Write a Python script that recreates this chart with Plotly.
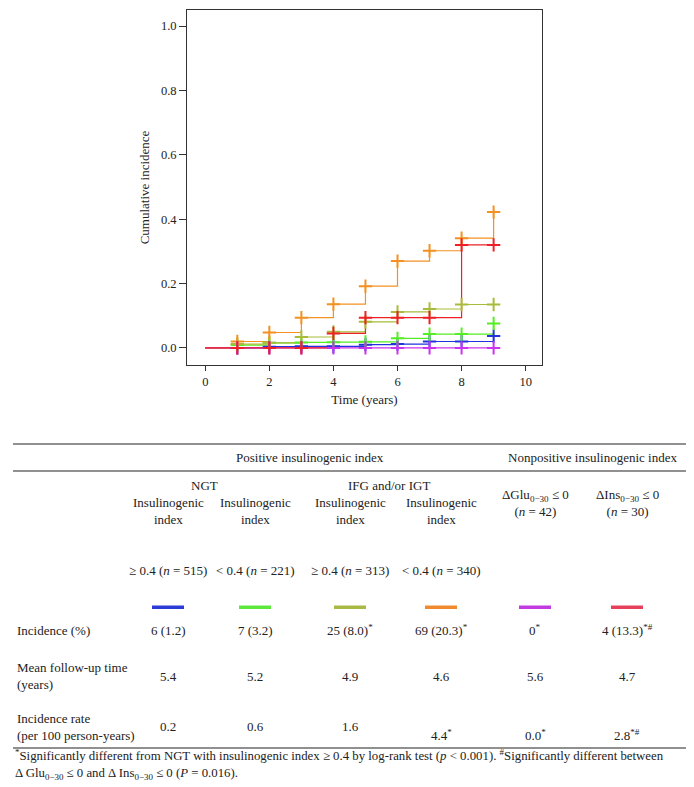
import plotly.graph_objects as go

# ---------------- data ----------------
times = [0, 1, 2, 3, 4, 5, 6, 7, 8, 9]
ngt_hi = [0.0, 0.0, 0.004, 0.005, 0.005, 0.010, 0.012, 0.020, 0.020, 0.037]
ngt_lo = [0.0, 0.009, 0.016, 0.017, 0.018, 0.019, 0.030, 0.043, 0.043, 0.076]
ifg_hi = [0.0, 0.012, 0.016, 0.034, 0.050, 0.081, 0.112, 0.121, 0.135, 0.135]
ifg_lo = [0.0, 0.020, 0.048, 0.094, 0.136, 0.192, 0.270, 0.302, 0.341, 0.422]
dglu = [0.0, 0.0, 0.0, 0.0, 0.0, 0.0, 0.0, 0.0, 0.0, 0.0]
dins = [0.0, 0.0, 0.0, 0.0, 0.045, 0.094, 0.094, 0.094, 0.320, 0.320]

series_names = ["NGT, index ≥ 0.4", "NGT, index < 0.4", "IFG/IGT, index ≥ 0.4",
                "IFG/IGT, index < 0.4", "ΔGlu ≤ 0", "ΔIns ≤ 0"]
series_values = [ngt_hi, ngt_lo, ifg_hi, ifg_lo, dglu, dins]
line_colors = ["#2233dd", "#55ee22", "#a9bb3a", "#f39122", "#cc33ee", "#ee2026"]
key_colors = ["#2a3bd6", "#5fe83c", "#a9b944", "#f08a2c", "#c23ae0", "#e8405a"]

y_ticks = [0.0, 0.2, 0.4, 0.6, 0.8, 1.0]
x_ticks = [0, 2, 4, 6, 8, 10]

group_headers = ["Positive insulinogenic index", "Nonpositive insulinogenic index"]
sub_headers = ["NGT", "IFG and/or IGT"]
col_head_1 = ["Insulinogenic<br>index", "Insulinogenic<br>index", "Insulinogenic<br>index",
              "Insulinogenic<br>index", "ΔGlu<sub>0−30</sub> ≤ 0<br>(<i>n</i> = 42)",
              "ΔIns<sub>0−30</sub> ≤ 0<br>(<i>n</i> = 30)"]
col_head_2 = ["≥ 0.4 (<i>n</i> = 515)", "< 0.4 (<i>n</i> = 221)", "≥ 0.4 (<i>n</i> = 313)",
              "< 0.4 (<i>n</i> = 340)", "", ""]
row_labels = ["Incidence (%)", "Mean follow-up time<br>(years)",
              "Incidence rate<br>(per 100 person-years)"]
incidence = ["6 (1.2)", "7 (3.2)", "25 (8.0)<sup>*</sup>", "69 (20.3)<sup>*</sup>",
             "0<sup>*</sup>", "4 (13.3)<sup>*#</sup>"]
followup = ["5.4", "5.2", "4.9", "4.6", "5.6", "4.7"]
inc_rate = ["0.2", "0.6", "1.6", "4.4<sup>*</sup>", "0.0<sup>*</sup>", "2.8<sup>*#</sup>"]
footnote = ("<sup>*</sup>Significantly different from NGT with insulinogenic index ≥ 0.4 by log-rank test "
            "(<i>p</i> < 0.001). <sup>#</sup>Significantly different between<br>"
            "Δ Glu<sub>0−30</sub> ≤ 0 and Δ Ins<sub>0−30</sub> ≤ 0 (<i>P</i> = 0.016).")

# ---------------- layout helpers ----------------
# the page body has an 8 px margin, so the figure is drawn 8 px in from the corner
OFF = 8
W, H = 686, 779
FONT = "Liberation Serif, DejaVu Serif, serif"
TS = 13  # table text size


def px(x):
    return (x - OFF) / W


def py(y):
    return 1 - (y - OFF) / H


fig = go.Figure()

for name, vals, col in zip(series_names, series_values, line_colors):
    fig.add_trace(go.Scatter(x=times, y=vals, mode="lines", line=dict(color=col, width=1.2, shape="hv"),
                             name=name, showlegend=False, hoverinfo="skip"))
for name, vals, col in zip(series_names, series_values, line_colors):
    fig.add_trace(go.Scatter(x=times[1:], y=vals[1:], mode="markers",
                             marker=dict(symbol="cross-thin", size=9.5, color=col,
                                         line=dict(color=col, width=2)),
                             name=name, showlegend=False))

tickfont = dict(family=FONT, size=12.5, color="#222")
titlefont = dict(family=FONT, size=13, color="#222")
fig.update_layout(
    width=W, height=H, plot_bgcolor="white", paper_bgcolor="white",
    margin=dict(l=0, r=0, t=0, b=0),
    font=dict(family=FONT, size=12, color="#222"),
    xaxis=dict(domain=[px(187), px(542)], range=[-0.57, 10.51], tickvals=x_ticks,
               showgrid=False, zeroline=False, showline=True, mirror=True, linecolor="#333",
               linewidth=1, ticks="outside", ticklen=5, tickcolor="#333",
               tickfont=tickfont, title=dict(text="Time (years)", font=titlefont, standoff=6)),
    yaxis=dict(domain=[py(365), py(10)], range=[-0.053, 1.05], tickvals=y_ticks, tickformat=".1f",
               showgrid=False, zeroline=False, showline=True, mirror=True, linecolor="#333",
               linewidth=1, ticks="outside", ticklen=7, tickcolor="#333",
               tickfont=tickfont, title=dict(text="Cumulative incidence", font=titlefont, standoff=8)),
)

shapes = []
ann = []


def text(x, y, s, size=TS, xanchor="center"):
    ann.append(dict(x=px(x), y=py(y), xref="paper", yref="paper", text=s, showarrow=False,
                    xanchor=xanchor, yanchor="middle", align="left" if xanchor == "left" else "center",
                    font=dict(family=FONT, size=size, color="#222")))


def hline(y, x0=13, x1=686):
    shapes.append(dict(type="line", xref="paper", yref="paper", x0=px(x0), x1=px(x1), y0=py(y), y1=py(y),
                       line=dict(color="#222", width=1.2)))


col_x = [168, 255, 350, 441, 535, 627]

hline(444)
hline(471)
text(310, 457.5, group_headers[0])
text(592, 457.5, group_headers[1])
text(204, 485, sub_headers[0])
text(389, 485, sub_headers[1])
for i, cx in enumerate(col_x):
    text(cx, 511 if i < 4 else 503, col_head_1[i])
    if col_head_2[i]:
        text(cx, 570, col_head_2[i])
    shapes.append(dict(type="rect", xref="paper", yref="paper", x0=px(cx - 16), x1=px(cx + 16),
                       y0=py(609), y1=py(605.5), fillcolor=key_colors[i], line=dict(width=0)))
    text(cx, 630, incidence[i])
    text(cx, 676, followup[i])
    text(cx, 726 if i < 3 else 735, inc_rate[i])

text(15, 630, row_labels[0], xanchor="left")
text(15, 676, row_labels[1], xanchor="left")
text(15, 727, row_labels[2], xanchor="left")
hline(748)
text(13, 764, footnote, size=12.8, xanchor="left")

fig.update_layout(shapes=shapes, annotations=ann)
fig.write_html("out.html")
